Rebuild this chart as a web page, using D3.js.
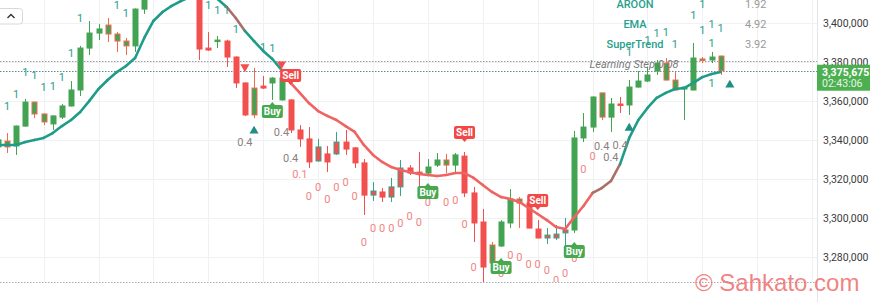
<!DOCTYPE html>
<html><head><meta charset="utf-8">
<script src="https://cdnjs.cloudflare.com/ajax/libs/d3/7.8.5/d3.min.js"></script>
<style>html,body{margin:0;padding:0;background:#fff;overflow:hidden}svg{display:block}</style>
</head><body>
<svg id="c" width="870" height="302"></svg>
<script>
// ---------- DATA ----------
const open  = [3336600,3339600,3337100,3347300,3359600,3353500,3348400,3351900,3357600,3365800,3387300,3395000,3399100,3394500,3390900,3388400,3407300,3414500,3419000,3424000,3421000,3425000,3418000,3387300,3390900,3390900,3382700,3369400,3353000,3367800,3369400,3360700,3360700,3345300,3340700,3329400,3333000,3333000,3339100,3336100,3328400,3311900,3313500,3310900,3316100,3325800,3323700,3323200,3327300,3329900,3327300,3331900,3313000,3298100,3277100,3285800,3297600,3309900,3307800,3294500,3289900,3289900,3292500,3294000,3341200,3346800,3364300,3351900,3358600,3358100,3367300,3370400,3375500,3379600,3370900,3366300,3365800,3381700,3381200,3383200];
const high  = [3341200,3343700,3347600,3361200,3359900,3353800,3352700,3358600,3370400,3388400,3401200,3399600,3402700,3395500,3392500,3407600,3417100,3421000,3426000,3429000,3427000,3428000,3419000,3395500,3393500,3391600,3383000,3369600,3377100,3373000,3372400,3375000,3361000,3347800,3346800,3340700,3337100,3344300,3345300,3336600,3330400,3318600,3315500,3320700,3329900,3327300,3334000,3330400,3333500,3333000,3333500,3334000,3316100,3304800,3287800,3299100,3315000,3310900,3310900,3299100,3295000,3296600,3300200,3344800,3354000,3362500,3364500,3361700,3362200,3370900,3375500,3377600,3381200,3382200,3375000,3367300,3389900,3382700,3385300,3383500];
const low   = [3335000,3333500,3332500,3347000,3351400,3347800,3345300,3350900,3357300,3362700,3383700,3391400,3390400,3385300,3383700,3385300,3404800,3412500,3416000,3418000,3417500,3416000,3381200,3385800,3387300,3377600,3366800,3352500,3351400,3366300,3360700,3360400,3343700,3336600,3325800,3329000,3323700,3332500,3332500,3325800,3301700,3308900,3308400,3308400,3311400,3322200,3316100,3321700,3326300,3323200,3323700,3310900,3287800,3267300,3276800,3285300,3295000,3295000,3294800,3289700,3286800,3288900,3285300,3292500,3339100,3344300,3350400,3344300,3354000,3353000,3367100,3369900,3373500,3370700,3365600,3350400,3365600,3379600,3379600,3373500];
const close = [3340200,3336600,3347300,3359600,3353500,3349400,3352500,3357600,3365800,3387300,3395000,3397100,3394500,3390900,3388400,3407300,3414500,3419000,3424000,3421000,3425000,3418000,3386800,3386300,3391400,3382700,3369400,3353000,3366800,3366800,3371900,3371900,3345300,3340700,3328900,3336600,3328900,3339100,3335500,3328400,3311900,3314000,3310900,3316100,3325800,3323200,3322700,3326300,3329900,3327300,3332500,3313000,3297600,3275000,3286300,3298100,3309900,3307800,3295000,3289900,3291400,3291900,3294000,3341200,3346800,3362200,3351900,3358600,3358100,3367300,3370400,3373500,3379600,3370900,3365800,3367300,3382200,3381200,3382700,3375675];
// bars recoloured by the strategy overlay
const overlayGreenBody = [1,4,5,12,13,14,28,49,54,57,66,73,74,77,79];
const overlayRedBody   = [35,37,41,43,44,60,61,62];
// trend line (SuperTrend style) and its state: 1 up, -1 down, 0 flip
const trend = [3337600,3337600,3337600,3339100,3340200,3341200,3343700,3347300,3350400,3354500,3360200,3366300,3370900,3375000,3378100,3382200,3392500,3401200,3405800,3408900,3411400,3413500,3414000,3413500,3412500,3408400,3402700,3396100,3390900,3385800,3381700,3376100,3369400,3364300,3359100,3355000,3352500,3350400,3347300,3344300,3337600,3332500,3328900,3326300,3324800,3323700,3322700,3322200,3321700,3322200,3323200,3323200,3320700,3317100,3313500,3310900,3309900,3308400,3305300,3302200,3299100,3295500,3294500,3300600,3306300,3313000,3315500,3319100,3327800,3341200,3350400,3356600,3361700,3364300,3366300,3366800,3369400,3372400,3374000,3375000];
const trendState = [1,1,1,1,1,1,1,1,1,1,1,1,1,1,1,1,1,1,1,1,1,1,1,1,1,1,0,0,1,1,1,1,-1,-1,-1,-1,-1,-1,-1,-1,-1,-1,-1,-1,-1,-1,-1,-1,-1,-1,-1,-1,-1,-1,-1,-1,-1,-1,-1,-1,-1,-1,-1,-1,-1,-1,0,0,0,1,1,1,1,1,1,1,1,1,1,1];
// "1" marks: [bar, price]
const oneMarks = [[1,3357600],[2,3363700],[3,3375000],[4,3373500],[5,3367300],[6,3367800],[7,3372400],[8,3384800],[9,3402700],[13,3409400],[14,3405300],[23,3409400],[24,3406800],[25,3406800],[26,3397100],[29,3387800],[30,3387300],[69,3385300],[71,3391400],[72,3395000],[73,3395500],[74,3389400],[76,3404300],[77,3409900],[77,3396600],[78,3399600],[78,3389900],[78,3369400],[79,3397600]];
// numeric marks: [bar, price, text]
const numMarks = [[27,3339100,"0.4"],[31,3344300,"0.4"],[32,3330900,"0.4"],[33,3322700,"0.1"],[34,3311400,"0"],[35,3316100,"0"],[36,3309900,"0"],[37,3316100,"0"],[38,3318600,"0"],[39,3311400,"0"],[40,3287800,"0"],[41,3295000,"0"],[42,3295000,"0"],[43,3295000,"0"],[44,3297600,"0"],[45,3301200,"0"],[46,3298100,"0"],[47,3308400,"0"],[49,3308400,"0"],[50,3309400,"0"],[51,3297100,"0"],[52,3275000,"0"],[55,3271900,"0"],[56,3281200,"0"],[57,3280200,"0"],[58,3276600,"0"],[59,3276600,"0"],[60,3273500,"0"],[61,3268400,"0"],[62,3271900,"0"],[63,3279600,"0"],[64,3325300,"0"],[65,3331900,"0"],[66,3337100,"0.4"],[67,3331400,"0.4"],[68,3337600,"0.4"]];
// signals: [bar, price, type]
const signals = [[32,3368400,"Sell"],[51,3339100,"Sell"],[59,3304300,"Sell"],[30,3359600,"Buy"],[47,3318100,"Buy"],[55,3279600,"Buy"],[63,3287800,"Buy"]];
const downArrows = [[27,3377600],[31,3379100]];
const upArrows = [[28,3344800],[69,3346300],[80,3368400]];
const legendNames = ["AROON","EMA","SuperTrend"];
const legendValues = ["1.92","4.92","3.92"];
const learningStep = "Learning Step 0.08";
const priceTicks = [3280000,3300000,3320000,3340000,3360000,3380000,3400000];
const timeTicks = [5,11,17,23,29,35,41,47,53,59,65,71,77,83,89];
const refLevel = 3380000;
const lastPrice = 3375675;
const countdown = "02:43:06";
const watermark = "\u00A9 Sahkato.com";

// ---------- CHART ----------
const W = 870, H = 302, plotR = 817, plotB = 282;
const GREEN = "#43a352", RED = "#f24f4f", TEAL = "#1f9c88", REDLINE = "#f06363", BROWN = "#a87068";
const FONT = "Roboto, 'Open Sans', Arial, sans-serif";
const svg = d3.select("#c");
svg.append("rect").attr("width", W).attr("height", H).attr("fill", "#fff");
svg.append("defs").append("clipPath").attr("id", "clip")
  .append("rect").attr("x", 0).attr("y", 0).attr("width", plotR).attr("height", plotB);

const x = d3.scaleLinear().domain([0, 80]).range([-2.15, 729.85]);
const y = d3.scaleLinear().domain([3280000, 3400000]).range([257.3, 23.3]);

// grid
const grid = svg.append("g");
grid.selectAll("line.v").data(timeTicks.filter(t => x(t) < plotR)).join("line")
  .attr("x1", d => Math.round(x(d)) + 0.5).attr("x2", d => Math.round(x(d)) + 0.5)
  .attr("y1", 0).attr("y2", plotB).attr("stroke", "#f0f1f3");
grid.selectAll("line.h").data(priceTicks).join("line")
  .attr("x1", 0).attr("x2", plotR)
  .attr("y1", d => Math.round(y(d)) + 0.5).attr("y2", d => Math.round(y(d)) + 0.5).attr("stroke", "#f0f1f3");

// axis border + pane separator
svg.append("line").attr("x1", plotR + 0.5).attr("x2", plotR + 0.5).attr("y1", 0).attr("y2", H).attr("stroke", "#e3e5ea");
svg.append("line").attr("x1", 0).attr("x2", plotR).attr("y1", plotB + 0.5).attr("y2", plotB + 0.5)
  .attr("stroke", "#a9adb5").attr("stroke-dasharray", "1.5,1.5");

const plot = svg.append("g").attr("clip-path", "url(#clip)");

// horizontal dotted levels
plot.append("line").attr("x1", 0).attr("x2", plotR).attr("y1", Math.round(y(refLevel)) - 0.5).attr("y2", Math.round(y(refLevel)) - 0.5)
  .attr("stroke", "#9a9ea6").attr("stroke-dasharray", "1.5,1.5");
plot.append("line").attr("x1", 0).attr("x2", plotR).attr("y1", Math.round(y(lastPrice)) + 0.5).attr("y2", Math.round(y(lastPrice)) + 0.5)
  .attr("stroke", "#5f8a8f").attr("stroke-dasharray", "1.5,1.5");

// candles
const idx = d3.range(open.length);
const gA = new Set(overlayGreenBody), rB = new Set(overlayRedBody);
function colors(i) {
  const up = close[i] >= open[i];
  if (gA.has(i)) return {fill: GREEN, stroke: "#ef6a4f", wick: "#ef6a4f"};
  if (rB.has(i)) return {fill: RED, stroke: "#3aa18a", wick: "#3aa18a"};
  const c = up ? GREEN : RED;
  return {fill: c, stroke: c, wick: c};
}
const candles = plot.append("g");
idx.forEach(i => {
  const c = colors(i), cx = Math.round(x(i));
  candles.append("line").attr("x1", cx + 0.5).attr("x2", cx + 0.5)
    .attr("y1", y(high[i])).attr("y2", y(low[i])).attr("stroke", c.wick).attr("stroke-width", 1);
  const top = y(Math.max(open[i], close[i])), bot = y(Math.min(open[i], close[i]));
  const hgt = Math.max(1.5, bot - top);
  candles.append("rect").attr("x", cx - 2).attr("y", top).attr("width", 5).attr("height", hgt)
    .attr("fill", c.fill).attr("stroke", c.stroke).attr("stroke-width", 1);
});

// trend line
const tl = plot.append("g");
for (let i = 1; i < trend.length; i++) {
  const s = trendState[i];
  tl.append("line").attr("x1", x(i - 1)).attr("y1", y(trend[i - 1])).attr("x2", x(i)).attr("y2", y(trend[i]))
    .attr("stroke", s > 0 ? TEAL : s < 0 ? REDLINE : BROWN).attr("stroke-width", 2.6).attr("stroke-linecap", "round");
}

// "1" marks
plot.selectAll("text.one").data(oneMarks).join("text")
  .attr("x", d => x(d[0])).attr("y", d => y(d[1])).attr("dy", "0.36em")
  .attr("text-anchor", "middle").attr("font-family", FONT).attr("font-size", 11)
  .attr("fill", "#2a9d8a").text("1");

// numeric marks
plot.selectAll("text.num").data(numMarks).join("text")
  .attr("x", d => x(d[0])).attr("y", d => y(d[1])).attr("dy", "0.36em")
  .attr("text-anchor", "middle").attr("font-family", FONT).attr("font-size", 11)
  .attr("fill", d => d[2] === "0.4" ? "#8c8080" : "#f08585").text(d => d[2]);

// arrows
const tri = d3.symbol().type(d3.symbolTriangle).size(36);
plot.selectAll("path.dn").data(downArrows).join("path")
  .attr("d", tri).attr("transform", d => `translate(${x(d[0])},${y(d[1])}) rotate(180)`).attr("fill", "#f25050");
plot.selectAll("path.up").data(upArrows).join("path")
  .attr("d", tri).attr("transform", d => `translate(${x(d[0])},${y(d[1])})`).attr("fill", "#1e8f80");

// signal labels
signals.forEach(([i, p, t]) => {
  const g = plot.append("g").attr("transform", `translate(${x(i)},${y(p)})`);
  const sell = t === "Sell", col = sell ? "#f24848" : "#46a84f";
  const bw = 21, bh = 13;
  if (sell) {
    g.append("rect").attr("x", -bw / 2).attr("y", -3 - bh).attr("width", bw).attr("height", bh).attr("rx", 2).attr("fill", col);
    g.append("path").attr("d", "M-3,-3.5L3,-3.5L0,0Z").attr("fill", col);
    g.append("text").attr("y", -3 - bh / 2).attr("dy", "0.36em");
  } else {
    g.append("rect").attr("x", -bw / 2).attr("y", 3).attr("width", bw).attr("height", bh).attr("rx", 2).attr("fill", col);
    g.append("path").attr("d", "M-3,3.5L3,3.5L0,0Z").attr("fill", col);
    g.append("text").attr("y", 3 + bh / 2).attr("dy", "0.36em");
  }
  g.select("text").attr("text-anchor", "middle").attr("font-family", FONT).attr("font-size", 10)
    .attr("font-weight", "bold").attr("fill", "#fff").text(t);
});

// legend overlay
const lg = svg.append("g").attr("font-family", FONT).attr("font-size", 11);
legendNames.forEach((n, k) => {
  lg.append("text").attr("x", 635).attr("y", 4 + k * 20).attr("dy", "0.36em").attr("text-anchor", "middle")
    .attr("fill", "#26a08c").attr("font-weight", 500).text(n);
  lg.append("text").attr("x", 745).attr("y", 4 + k * 20).attr("dy", "0.36em")
    .attr("fill", "#9a9a9a").text(legendValues[k]);
});
lg.append("text").attr("x", 634).attr("y", 64).attr("dy", "0.36em").attr("text-anchor", "middle")
  .attr("font-style", "italic").attr("fill", "#7a7a7a").text(learningStep);

// price axis
const axis = svg.append("g").attr("transform", `translate(${plotR},0)`)
  .call(d3.axisRight(y).tickValues(priceTicks).tickFormat(d3.format(",")).tickSize(0).tickPadding(6));
axis.select(".domain").remove();
axis.selectAll("text").attr("font-family", FONT).attr("font-size", 10.5).attr("fill", "#3a3a3a");

// last price box
const ly = y(lastPrice);
svg.append("rect").attr("x", plotR).attr("y", ly - 6).attr("width", W - plotR).attr("height", 26).attr("fill", "#4caf50");
svg.append("text").attr("x", plotR + 5).attr("y", ly + 1).attr("dy", "0.36em").attr("font-family", FONT)
  .attr("font-size", 10.5).attr("font-weight", "bold").attr("fill", "#fff").text(d3.format(",")(lastPrice));
svg.append("text").attr("x", plotR + 5).attr("y", ly + 12.5).attr("dy", "0.36em").attr("font-family", FONT)
  .attr("font-size", 10.5).attr("fill", "#e8f5e9").text(countdown);

// top-left button
svg.append("rect").attr("x", -6).attr("y", 8.5).attr("width", 28.5).attr("height", 15.5).attr("rx", 3)
  .attr("fill", "#fff").attr("stroke", "#d5d8de");
svg.append("path").attr("d", "M7.5,18L11,14.5L14.5,18").attr("fill", "none").attr("stroke", "#333").attr("stroke-width", 1.4);

// watermark
svg.append("text").attr("x", 695).attr("y", 291).attr("font-family", "Arial, 'Liberation Sans', sans-serif")
  .attr("font-size", 24).attr("fill", "#ef6b6b").attr("fill-opacity", 0.85).text(watermark);
</script>
</body></html>
